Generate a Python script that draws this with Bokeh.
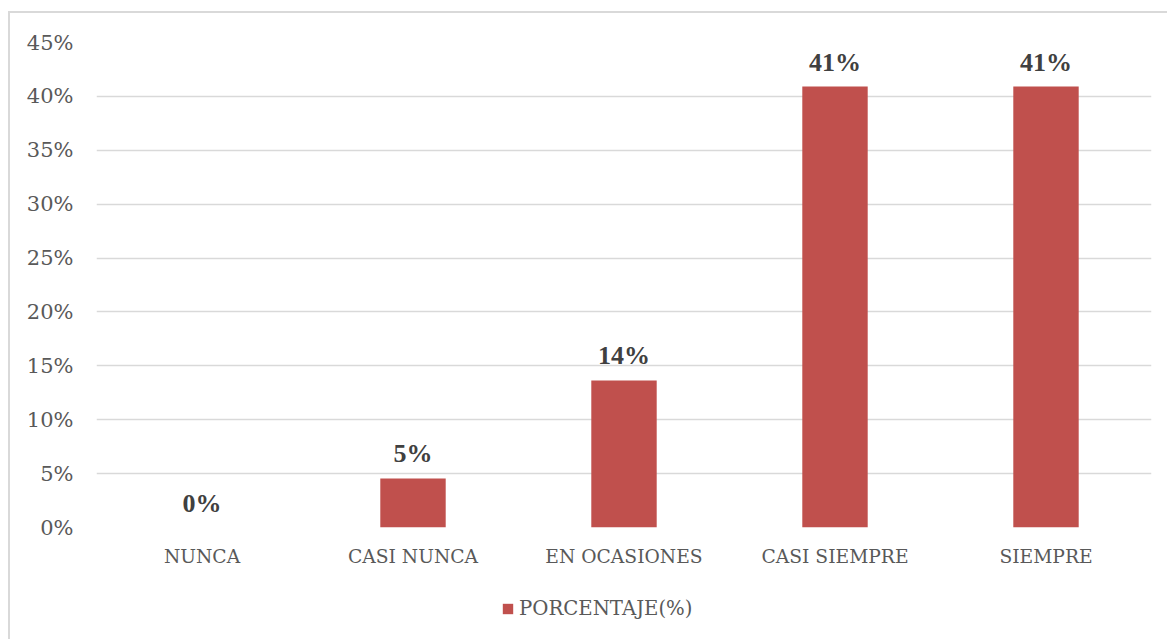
from bokeh.plotting import figure
from bokeh.models import ColumnDataSource, LabelSet, Legend, LegendItem, Range1d, FixedTicker
from bokeh.layouts import column
from bokeh.embed import file_html
from bokeh.resources import INLINE

# Survey answers and their share of respondents (%)
categories = ["NUNCA", "CASI NUNCA", "EN OCASIONES", "CASI SIEMPRE", "SIEMPRE"]
percentages = [0.0, 4.55, 13.64, 40.91, 40.91]
y_ticks = [0, 5, 10, 15, 20, 25, 30, 35, 40, 45]
series_name = "PORCENTAJE(%)"

FONT = "DejaVu Serif"
BAR_COLOR = "#C0504D"
GRID_COLOR = "#D9D9D9"
WIDTH = 1157

source = ColumnDataSource(data=dict(
    cat=categories,
    pct=percentages,
    label=[f"{round(v)}%" for v in percentages],
))

# Main bar chart
p = figure(
    x_range=categories,
    y_range=Range1d(0, 45),
    width=WIDTH, height=564,
    output_backend="svg",
    toolbar_location=None,
    min_border_left=86, min_border_right=16,
    min_border_top=29, min_border_bottom=50,
    outline_line_color=None,
    background_fill_color="white",
    border_fill_color="white",
)

p.vbar(x="cat", top="pct", width=0.31, source=source,
       fill_color=BAR_COLOR, line_color=None)

p.add_layout(LabelSet(x="cat", y="pct", text="label", source=source,
                      text_align="center", text_baseline="alphabetic",
                      y_offset=16, text_font=FONT, text_font_size="26px",
                      text_font_style="bold", text_color="#404040"))

p.xgrid.visible = False
p.ygrid.grid_line_color = GRID_COLOR
p.ygrid.grid_line_width = 1.3
p.ygrid.ticker = FixedTicker(ticks=y_ticks)

p.yaxis.ticker = FixedTicker(ticks=y_ticks)
p.yaxis.major_label_overrides = {t: f"{t}%" for t in y_ticks}
for ax in (p.xaxis, p.yaxis):
    ax.axis_line_color = None
    ax.major_tick_line_color = None
    ax.major_tick_out = 0
    ax.major_tick_in = 0
    ax.minor_tick_line_color = None
    ax.major_label_text_font = FONT
    ax.major_label_text_color = "#595959"
p.yaxis.major_label_text_font_size = "21px"
p.xaxis.major_label_text_font_size = "18.7px"
p.yaxis.major_label_standoff = 23
p.xaxis.major_label_standoff = 18

# Legend strip underneath the chart (its frame lines up with the chart's frame)
leg = figure(
    x_range=categories,
    y_range=Range1d(100, 101),
    width=WIDTH, height=62,
    output_backend="svg",
    toolbar_location=None,
    x_axis_location=None, y_axis_location=None,
    min_border=0,
    outline_line_color=None,
    background_fill_color="white",
    border_fill_color="white",
)
leg.xgrid.visible = False
leg.ygrid.visible = False
swatch = leg.vbar(x="cat", top="pct", width=0.31, source=source,
                  fill_color=BAR_COLOR, line_color=None)

legend = Legend(items=[LegendItem(label=series_name, renderers=[swatch])],
                location=(405, 19), orientation="horizontal",
                glyph_width=13, glyph_height=13, label_standoff=5,
                label_text_font=FONT, label_text_font_size="19.7px",
                label_text_color="#595959",
                border_line_color=None, background_fill_alpha=0,
                padding=0, margin=0)
leg.add_layout(legend, "center")

page = column(p, leg, spacing=0, styles={
    "margin-left": "8px", "margin-top": "11px",
    "border-left": "2px solid #D9D9D9", "border-top": "2px solid #D9D9D9",
})

open("out.html", "w").write(file_html(page, INLINE))
